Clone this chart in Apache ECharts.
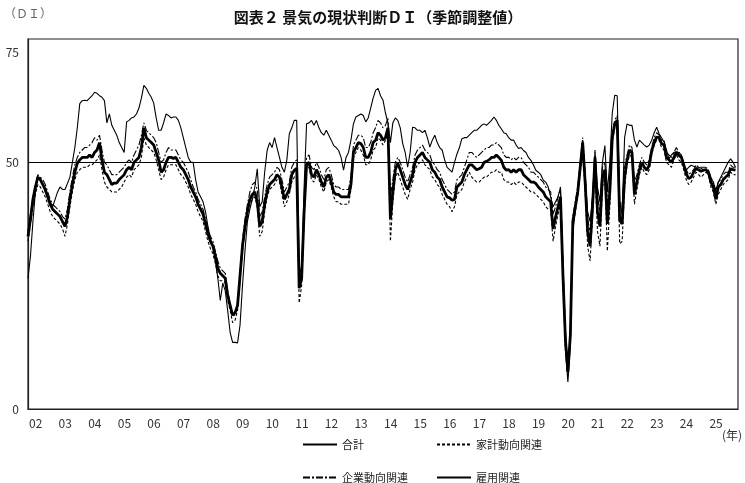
<!DOCTYPE html>
<html>
<head>
<meta charset="utf-8">
<script src="https://cdn.jsdelivr.net/npm/echarts@6/dist/echarts.min.js"></script>
<style>
html,body{margin:0;padding:0;background:#fff;}
#chart{width:745px;height:483px;}
</style>
</head>
<body>
<div id="chart"></div>
<script>
// Monthly data, Jan 2002 - Dec 2025
const startYear = 2002;
const yearLabels = ['02','03','04','05','06','07','08','09','10','11','12','13','14','15','16','17','18','19','20','21','22','23','24','25'];
const yTickLabels = [0, 50, 75];

const total = [ // 合計
35,38.5,42.5,45,47,46.5,45.5,44.5,43,41.5,40.5,40,
39.5,39,38,37,39,42.5,45.5,48,49.8,50.5,51,51,
51,51.5,51,52,52.5,54,50.5,48,47.5,46.5,45.5,45.8,
45.8,46.5,47,47.5,48.5,49,48.5,50,50.5,51,53,57,
55,54.5,54,53.5,52,50.5,48,48.5,50,51,51,50.8,
51,50,49,48.5,47.5,46.5,45,44,43,41.5,40.5,39.5,
37.5,35.5,34,33,31,28.5,27.5,27,26.5,23,21,19,
19.5,21,27,33,37,40,42.5,43.5,44,42,37,38,
41.5,44,45.5,46,46.5,47.5,47,45,42.5,43.5,44.5,47.5,
48.4,48.8,24.5,26.5,40,49.5,50,47.5,47,48.5,47.5,46,
45,47,47.5,46,44,43.5,43.5,43,43,43,43,45.5,
52,53,54,53.8,53,51,51,52,54,54.5,56,55.5,
54.5,55,57,38.5,44,48.5,49.8,48.5,47,45.5,44.5,46,
47.5,50,51,51.5,52,51,50.5,50,48.5,48,47,46.5,
45,44,43,42.8,42.3,42.5,45,45.5,46,47.5,48.5,49.5,
49.5,49,48.5,48.7,49,50,50.2,50.5,51,51,51.5,51,
50.4,49,48.4,48.5,48,48.5,48,48.5,48.5,47.5,47,46.5,
46,46,45.7,45,44.5,44,43,42.5,42,36.5,38.9,41,
43,27,14,7.5,15,38,41,44,49,54,46,36,
33,41,51,40,37,47,48.5,37.5,44,55,57.8,58.5,
38.3,37.5,47,50.5,52.5,52,43.5,46,48.5,50,49,48.4,
49.5,52.4,54,55.1,55,53.8,53.5,51,50.5,50,51,52.1,
51.4,51,49.5,47.7,46.7,47,48,48.7,48.5,48.2,48.4,48.5,
48,46,45,42.5,45,45.5,46.5,47,47.5,48.7,48.5,48.4
];

const household = [ // 家計動向関連
34,37.5,41,43.5,45.5,45,44,43,41.5,40,39,38.5,
38,37.5,36.5,35,37.5,41,44,46.5,48,48.5,49,49,
49,49.5,49.5,50,50.5,51.5,48.5,46,45,44.5,44,44,
44,44.5,45,46,47,47.5,47,48.5,49,49.5,51,55,
53.5,53,52.5,52,50.5,48.5,46.5,47,48.5,49.5,49.5,49.5,
49.5,48.5,47.5,47,46,45,43.5,42.5,41.5,40,39,38,
36,34,32.5,31.5,29.5,27,26,26,25.5,22,20,17.5,
18,20,26,32,36,39,41.5,42.5,43,41,35,36,
40,43,44.5,45,45.5,46.5,46,43.5,41,42,43.5,46,
47,47.5,21.5,25,38,48.5,49,46.5,46,47.5,46.5,45,
44,46,46.5,45,43,42,42,41.5,41.5,41.5,41.5,44.5,
51,52,53,52.5,51.5,49.5,49.5,50.5,52.5,53,55,54.5,
53.5,54.5,56.5,34,42,47,48,46.5,45,43.5,42.5,44.5,
46,48.5,49.5,50,50.5,49.5,49,48.5,47,46.5,45.5,45,
43.5,42.5,41.5,41,40,41,43.5,44,44.5,46,47,48,
47,46.5,46,46,46.5,47,47,47.5,48,48,48.5,48,
48,46.5,46,46,45.5,46,45.5,46,46,45.5,45,44.5,
44,44,43.5,43,42.5,42,41,40.5,40.5,34,37,39.5,
41.5,25,12,6.5,14,37,40,43,48,53,44,33,
30,39,49,36,33,45,47,32,41,54,57,57.5,
33.5,34,45,49.5,51.5,51,41.5,44.5,47.5,49,48,47.5,
48.5,51.5,53.5,54.5,54.5,53,52.5,50,49.5,49,50.5,51.5,
50.5,50,48.5,46.5,45.5,46,47,48,47.5,47,47.5,48,
47.5,45,44,41.5,43.5,44.5,45.5,46,46.5,48,47.5,47.5
];

const corporate = [ // 企業動向関連
36,39.5,43,45.5,47.5,47,46.5,45.5,44,42.5,41.5,41,
40.5,40,39,38.5,40.5,44,47,49.5,51,52,52.5,53,
53,53.5,54,55,54.5,55.5,52.5,50,49.5,48.5,47.5,47.5,
47.5,48,48.5,49,50,50.5,50,51.5,52.5,53.5,55.5,58,
56.5,56,55.5,55,54,52,50,50.5,52,53,52.5,52.5,
52.5,51.5,50.5,50,49,48,46.5,45,44,42.5,41.5,40.5,
38.5,36.5,35,34,32,30,28.5,28,27.5,24,21.5,19,
19,21.5,28,34,38.5,41.5,44,45.5,46,44.5,39,40,
43,45.5,47,47.5,48,49,48.5,46.5,44,45,46,49,
50,50.5,27,29,42,51,51.5,49,48.5,50,49,47.5,
46.5,48.5,49,47.5,45.5,45,45,44.5,44.5,44.5,44.5,47,
53.5,54.5,55.5,55.5,55,53,53,54,56,57,58.5,58,
57,57.5,59,43,46.5,50,51,50,48.5,47,46,47.5,
49,51.5,52.5,53,53.5,52.5,52,51.5,50,49.5,48.5,48,
46.5,45.5,44.5,44,43.5,44,46.5,47,47.5,49,50.5,52,
52,51.5,51,51.5,52,52.5,53,53,53.5,53.5,54,53.5,
53,51.5,51,51,50.5,51,50.5,51,51,50,49.5,49,
48,48,47.5,47,46.5,46,45,44.5,44,39.5,41,43,
44.5,30,16,8,16,39,42,45,50,55,48,38.5,
36,43,52.5,43,40,49,50,41.5,46,56,58.5,59.5,
42,41,49,51.5,53.5,53,46,47.5,49.5,51,50,49.5,
50.5,53,55,56,55.5,54.5,54.5,52,51.5,51,52,53,
52,51.5,50,48.5,47.5,48,48.5,49.5,49,49,49,49,
48.5,47,46,44,46,46.5,47.5,48,48,49.5,49,49
];

const employment = [ // 雇用関連
26.5,31,38,44,47,46.5,45.5,44,43,42,41,42.5,
44,45,44.5,44.5,45.7,47,50,53,57,61.9,62.5,62.6,
62.5,63,63.5,64.2,64,63.5,63.2,62.5,58,59.8,57.5,56.5,
55.5,54,53,52,58.2,58.5,59,59.2,59.8,61,63,65.6,
65,64,63.2,62,59,56.5,56.5,58,59.8,59.5,59,59.2,
59.2,58.5,57,55,53,51,50,50,46.5,44,43,42,
40,37,34.5,33,30,26.5,22,25.5,24,20,15.5,13.5,
13.5,13.4,17,25,32,38,40.5,42.5,45,48.7,41,42,
48,52.4,54,53,55,53,51,49,48,50.5,55.8,57,
58.5,58.5,28,26.5,45,57.8,58,58.5,57.5,58.5,57,56,
55.5,56.5,55.5,54.5,53.4,53,52.4,51,48.4,51,52,54.5,
57.8,59.2,59.5,59.8,59.5,58.2,59,61,63,64.6,65,63.5,
62.6,60,58,54,58,59,58.5,57,53.8,52,49,52,
57.1,57,56.5,56.5,56,56.5,55,53.1,54.5,55.5,54,53,
52.5,50.5,49,48.5,48,50,51.7,53,54.8,55,55,55.5,
56,56.5,56.5,57,57.5,57.8,57.5,58,58.5,59.2,58.5,57.5,
56.8,56,55.8,55,54.5,54.5,53.5,52.8,53,52.4,52,51,
50.4,49.5,48.4,48,47.5,46.4,46,45,43,41,42,43,
45,29,12,5.5,13,36,40,44,50,54.5,47,40,
38,43,52,45,42,50,53.4,44,50,60,63.6,63.5,
42,39.5,55,57.8,57.5,57.5,54.5,53.1,54.5,54,53.5,53.1,
53.5,54.5,56,57.1,55.8,55,54.1,52.5,50.7,51.5,52,52.1,
52,51.5,49.5,48.4,49,49.4,49.2,49,49,48.8,48.5,48.5,
47.5,46.7,46,44.3,46,47,48,49,50,50.7,50,49
];

function toXY(arr){ return arr.map((v,i)=>[startYear + i/12, v]); }

const FONT = "'Noto Sans CJK JP', 'Noto Sans', sans-serif";
const chart = echarts.init(document.getElementById('chart'), null, {renderer:'canvas'});

const legendCommon = {
  itemWidth: 34, itemHeight: 12,
  itemStyle: {opacity: 0, borderWidth: 0, color: 'transparent'},
  textStyle: {fontFamily: FONT, fontSize: 11, color: '#222'}
};

chart.setOption({
  animation: false,
  backgroundColor: '#fff',
  title: {
    text: '図表２ 景気の現状判断ＤＩ（季節調整値）',
    left: 373, top: 5, textAlign: 'center',
    textStyle: {fontFamily: FONT, fontSize: 15, fontWeight: 'bold', color: '#111'}
  },
  graphic: [
    {type:'text', left: 4, top: 7, style:{text:'（ＤＩ）', fontFamily: FONT, fontSize: 12, fill:'#666'}},
    {type:'text', left: 722, top: 429, style:{text:'(年)', fontFamily: FONT, fontSize: 12, fill:'#333'}}
  ],
  grid: {left: 28, right: 7, top: 39, bottom: 74, show: true, borderColor: '#222', borderWidth: 1.2, backgroundColor: 'transparent'},
  xAxis: {
    type: 'value', min: startYear, max: startYear + yearLabels.length, interval: 1,
    axisLine: {show: true, lineStyle: {color: '#222', width: 1.2}},
    axisTick: {show: false},
    splitLine: {show: false},
    axisLabel: {
      align: 'left', margin: 8, padding: [0,0,0,1],
      fontFamily: FONT, fontSize: 12, color: '#333',
      formatter: function(v){ const i = Math.round(v - startYear); return yearLabels[i] !== undefined ? yearLabels[i] : ''; }
    }
  },
  yAxis: {
    type: 'value', min: 0, max: 75, interval: 25,
    axisLine: {show: true, lineStyle: {color: '#222', width: 1.2}},
    axisTick: {show: false},
    splitLine: {show: false},
    axisLabel: {
      margin: 9, fontFamily: FONT, fontSize: 12, color: '#333',
      formatter: function(v){
        if (yTickLabels.indexOf(v) < 0) return '';
        return v === 75 ? '{t|' + v + '}' : String(v);
      },
      rich: {t: {padding: [26,0,0,0], fontFamily: FONT, fontSize: 12, color: '#333'}}
    }
  },
  legend: [
    Object.assign({left: 297, top: 434, itemGap: 72, data: ['合計','家計動向関連']}, legendCommon),
    Object.assign({left: 297, top: 467, itemGap: 28, data: ['企業動向関連','雇用関連']}, legendCommon)
  ],
  series: [
    {name: '雇用関連', type: 'line', data: toXY(employment), symbol: 'none', color: '#000',
     lineStyle: {color: '#000', width: 1.1, type: 'solid'},
     markLine: {silent: true, symbol: ['none','none'], label: {show: false},
       lineStyle: {color: '#000', width: 1.2, type: 'solid'}, data: [{yAxis: 50}]}},
    {name: '家計動向関連', type: 'line', data: toXY(household), symbol: 'none', color: '#000',
     lineStyle: {color: '#000', width: 1.1, type: [3,2]}},
    {name: '企業動向関連', type: 'line', data: toXY(corporate), symbol: 'none', color: '#000',
     lineStyle: {color: '#000', width: 1.1, type: [7,2,2,2]}},
    {name: '合計', type: 'line', data: toXY(total), symbol: 'none', color: '#000',
     lineStyle: {color: '#000', width: 2.8, type: 'solid'}}
  ]
});
</script>
</body>
</html>
